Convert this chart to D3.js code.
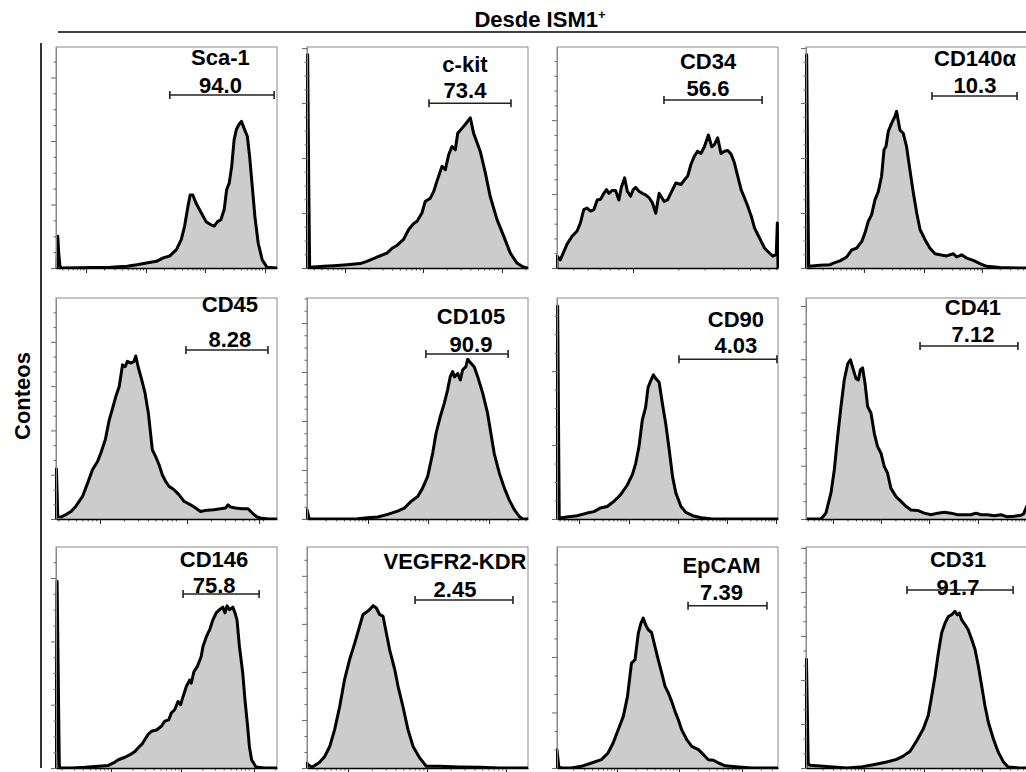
<!DOCTYPE html>
<html>
<head>
<meta charset="utf-8">
<script src="https://cdn.jsdelivr.net/npm/d3@7"></script>
<style>
  body { margin: 0; background: #fff; }
  svg { display: block; }
  text { font-family: "Liberation Sans", Arial, sans-serif; font-weight: bold; fill: #000; }
</style>
</head>
<body>
<svg id="chart"></svg>
<script>
// marker names and gate percentages, row by row
var markers = ["Sca-1", "c-kit", "CD34", "CD140\u03b1", "CD45", "CD105", "CD90", "CD41", "CD146", "VEGFR2-KDR", "EpCAM", "CD31"];
var gatePct = ["94.0", "73.4", "56.6", "10.3", "8.28", "90.9", "4.03", "7.12", "75.8", "2.45", "7.39", "91.7"];
// gate ranges in channel units (0-1000)
var gates = [[515, 987], [552, 923], [484, 928], [570, 955], [588, 959], [538, 910], [552, 995], [516, 959], [575, 919], [489, 932], [593, 950], [457, 937]];

// histograms: [channel, count]
var hSca1 = [[0,0],[5,0],[8,50],[12,25],[18,3],[25,0],[246,1],[321,2.6],[366,5],[410,8],[455,10.5],[485,16],[515,19],[545,29],[567,45],[582,66],[597,97],[607,115],[619,115],[634,102],[657,87],[679,73],[701,68],[716,66],[731,73],[746,76],[761,92],[772,123],[784,134],[795,160],[806,202],[816,218],[828,226],[839,231],[851,220],[866,207],[876,176],[888,129],[900,81],[915,39],[933,13],[955,1],[1000,0]];
var hCkit = [[0,0],[3,388],[8,150],[12,2],[15,1.2],[75,3],[121,4.2],[181,6],[241,8],[271,12],[317,20],[362,27],[385,36],[407,41],[437,52],[460,70],[483,81],[498,85],[520,100],[535,121],[558,127],[573,139],[588,158],[611,185],[626,179],[641,206],[656,221],[671,215],[682,245],[701,254],[716,261],[731,269],[739,273],[754,245],[784,212],[807,173],[829,130],[860,88],[890,58],[920,27],[950,9],[973,3],[995,0],[1000,0]];
var hCD34 = [[0,0],[0,16],[15,11],[45,32],[68,43],[91,50],[106,61],[121,79],[136,81],[152,77],[167,79],[182,92],[197,93],[212,101],[224,106],[235,101],[250,105],[265,105],[280,92],[291,109],[306,122],[318,104],[333,97],[345,106],[356,109],[371,104],[386,101],[401,99],[417,95],[432,88],[447,74],[462,101],[485,90],[500,92],[523,106],[538,115],[561,113],[576,119],[591,124],[606,140],[621,151],[636,158],[651,155],[667,164],[685,180],[700,164],[712,167],[727,176],[742,155],[758,158],[773,159],[788,154],[803,142],[818,124],[833,106],[848,95],[864,83],[879,70],[894,54],[909,45],[924,36],[939,27],[955,22],[977,16],[992,18],[997,61],[1000,0]];
var hCD140a = [[0,0],[3,388],[8,150],[12,5],[15,3],[63,5],[109,6],[124,9],[154,13],[184,20],[207,33],[229,36],[252,48],[267,64],[282,85],[297,97],[312,124],[327,139],[342,167],[353,215],[362,221],[372,248],[388,264],[403,276],[410,285],[425,251],[440,245],[455,221],[470,179],[486,136],[501,100],[516,70],[538,52],[561,36],[584,26],[606,24],[636,22],[667,26],[682,20],[704,24],[727,18],[757,14],[787,8],[817,3],[878,1],[968,0],[1000,0]];
var hCD45 = [[0,0],[2,113],[8,6],[23,4.5],[45,10],[68,17],[90,29],[120,51],[143,81],[165,111],[188,130],[203,149],[223,179],[241,224],[256,250],[271,277],[286,299],[301,348],[313,344],[323,356],[338,352],[353,356],[361,368],[373,341],[388,314],[403,284],[418,239],[436,156],[451,141],[466,123],[481,100],[496,85],[511,74],[534,66],[556,55],[579,40],[609,32],[632,25],[654,17],[684,20],[714,21],[744,23],[767,25],[779,32],[790,27],[812,25],[842,23],[869,23],[887,14],[910,4.5],[932,1.5],[963,0],[1000,0]];
var hCD105 = [[0,0],[0,19],[10,0],[229,0.7],[274,2.7],[320,4],[365,9.5],[410,16],[440,22],[471,36],[501,46],[523,63],[546,87],[569,135],[584,175],[603,209],[621,236],[636,263],[648,290],[659,301],[667,290],[682,297],[694,284],[704,304],[719,311],[727,326],[742,318],[757,310],[772,291],[795,257],[817,216],[832,175],[847,134],[870,94],[893,63],[915,39],[938,19],[961,5],[976,0],[1000,0]];
var hCD90 = [[0,0],[3,288],[10,3],[15,1.3],[45,2.7],[91,4.5],[136,8],[167,10],[197,15],[227,17],[258,24],[288,33],[318,46],[341,60],[356,75],[371,98],[386,134],[401,151],[412,178],[424,187],[436,195],[447,190],[462,185],[477,156],[492,129],[508,93],[523,57],[538,35],[561,17],[583,9],[614,4.5],[652,1.8],[697,0.5],[773,0],[1000,0]];
var hCD41 = [[0,0],[68,0],[90,11],[113,49],[128,92],[143,154],[158,210],[173,261],[189,292],[201,299],[211,285],[226,264],[237,261],[246,280],[256,284],[267,255],[279,211],[294,199],[309,161],[324,136],[339,124],[354,99],[369,86],[384,58],[407,42],[430,33],[452,24],[475,17],[505,16],[535,11],[566,8],[596,11],[626,12.5],[656,11],[686,8],[716,8],[746,8],[769,11],[792,8],[822,8],[852,6],[882,8],[912,4],[942,5],[973,7],[985,10],[993,18],[1000,25]];
var hCD146 = [[0,0],[5,295],[15,3],[20,0],[72,0],[132,1],[192,2.6],[237,4],[260,8],[282,13],[312,17],[335,21],[357,26],[372,32],[390,38],[402,45],[417,53],[432,58],[455,60],[477,66],[492,74],[510,76],[522,87],[537,92],[552,105],[564,100],[575,113],[590,129],[605,139],[612,134],[624,152],[639,160],[657,176],[665,192],[680,207],[695,218],[710,234],[725,245],[740,250],[755,254],[765,245],[774,256],[785,250],[800,254],[810,245],[819,234],[830,192],[845,150],[855,108],[867,66],[875,34],[885,13],[905,1.6],[942,0],[1000,0]];
var hVEGFR2 = [[0,0],[0,10],[5,7],[20,2],[35,5],[57,12],[80,24],[103,45],[125,80],[148,128],[170,184],[193,226],[216,260],[238,295],[253,319],[268,324],[284,330],[299,338],[314,333],[329,319],[344,316],[359,281],[374,246],[397,205],[412,170],[434,128],[457,80],[480,45],[510,21],[540,3.5],[600,3.5],[691,2],[781,1.4],[872,0],[1000,0]];
var hEpCAM = [[0,0],[0,33],[8,2],[20,0],[65,0],[110,3],[156,9],[201,15],[231,27],[254,45],[277,69],[300,93],[319,129],[337,189],[353,195],[368,243],[380,261],[390,270],[401,258],[413,249],[428,244],[443,219],[458,195],[474,171],[489,147],[504,135],[519,120],[534,102],[549,87],[564,69],[587,51],[610,39],[640,33],[663,24],[685,15],[708,14],[731,9],[761,4],[822,2],[882,0],[1000,0]];
var hCD31 = [[0,0],[2,247],[10,10],[18,6],[63,4.5],[124,2],[184,0],[244,2],[305,7.5],[365,13.5],[410,19.5],[440,27],[471,38],[501,62],[531,89],[553,119],[569,164],[584,209],[599,262],[614,307],[629,329],[644,344],[659,348],[674,356],[685,348],[694,352],[704,337],[719,326],[734,314],[750,292],[765,269],[780,231],[795,186],[810,141],[825,104],[848,66],[870,36],[893,14],[915,2],[968,0],[1000,0]];
var histograms = [hSca1, hCkit, hCD34, hCD140a, hCD45, hCD105, hCD90, hCD41, hCD146, hVEGFR2, hEpCAM, hCD31];

// count axis: top of the scale, major step, subdivisions per major
var countMax = [348, 402, 299, 402, 499, 451, 299, 415, 349, 460, 398, 502];
var countMajor = 100;
var countSub = [4, 4, 5, 4, 3, 4, 4, 3, 4, 3, 3, 3];
// decade tick positions (channels) and channels per decade
var decades = [[136, 407, 674, 946], [172, 525, 882], [344], [262, 534, 796], [199, 593, 919], [276, 548, 824], [100, 326, 548, 769, 991], [122, 339, 557, 778], [249, 566, 896], [186, 543, 900], [271, 552, 837], [262, 534, 796]];
var decadeSpan = [270, 355, 680, 267, 360, 274, 222, 218, 320, 357, 283, 267];

// layout
var colX = [56, 307, 557, 806];
var rowY = [47, 298, 547];
var pw = 221, ph = 221;
var nameY = [18, 24.7, 22, 18.7, 14.3, 26.3, 28.7, 17, 19.7, 22.3, 25.7, 19.7];
var valueY = [45.7, 51.3, 49, 45.7, 48.7, 53.7, 55.3, 44.3, 46.3, 49.7, 53, 48];
var gateY = [48, 56.3, 53, 49, 52, 56, 61.3, 48, 47, 53, 58.7, 43];
var labelDx = [-1.5, -5, -5, 0.5, 3, 4, 8, 4, -7, -9, -6, -2];

var width = 1026, height = 772;
var svg = d3.select("#chart").attr("width", width).attr("height", height);

// header
var head = svg.append("text")
	.attr("x", 540).attr("y", 27)
	.attr("text-anchor", "middle")
	.style("font-size", "22px");
head.append("tspan").text("Desde ISM1");
head.append("tspan").text("+").attr("dy", -8).style("font-size", "13px");
svg.append("line")
	.attr("x1", 58).attr("x2", width).attr("y1", 32).attr("y2", 32)
	.attr("stroke", "#000").attr("stroke-width", 1.6);

// left bracket and y title
svg.append("line")
	.attr("x1", 41).attr("x2", 41).attr("y1", 43).attr("y2", 768)
	.attr("stroke", "#000").attr("stroke-width", 1.6);
svg.append("text")
	.attr("transform", "translate(30,396) rotate(-90)")
	.attr("text-anchor", "middle")
	.style("font-size", "22px")
	.text("Conteos");

markers.forEach(function(name, i) {
	var px = colX[i % 4], py = rowY[Math.floor(i / 4)];
	var g = svg.append("g").attr("transform", "translate(" + px + "," + py + ")");

	var x = d3.scaleLinear().domain([0, 1000]).range([0, pw]);
	var y = d3.scaleLinear().domain([0, countMax[i]]).range([ph, 0]);

	var clipId = "clip" + i;
	g.append("clipPath").attr("id", clipId)
		.append("rect").attr("x", -1).attr("y", -1).attr("width", pw + 2).attr("height", ph + 2);

	// frame
	g.append("rect")
		.attr("width", pw).attr("height", ph)
		.attr("fill", "none").attr("stroke", "#8a8a8a").attr("stroke-width", 1);

	// histogram
	var data = histograms[i];
	var area = d3.area()
		.x(function(d) { return x(d[0]); })
		.y0(y(0))
		.y1(function(d) { return y(d[1]); });
	var line = d3.line()
		.x(function(d) { return x(d[0]); })
		.y(function(d) { return y(d[1]); });
	var hg = g.append("g").attr("clip-path", "url(#" + clipId + ")");
	hg.append("path").attr("d", area(data)).attr("fill", "#cccccc");
	hg.append("path").attr("d", line(data))
		.attr("fill", "none").attr("stroke", "#000")
		.attr("stroke-width", 3).attr("stroke-linejoin", "round");

	// y axis ticks
	var yMajor = d3.range(0, countMax[i] + 0.1, countMajor);
	var yMinor = d3.range(0, countMax[i] + 0.1, countMajor / countSub[i]).filter(function(v) {
		return yMajor.indexOf(v) < 0;
	});
	var ya = g.append("g").call(d3.axisLeft(y).tickValues(yMajor).tickSize(5).tickSizeOuter(0).tickFormat(""));
	var yb = g.append("g").call(d3.axisLeft(y).tickValues(yMinor).tickSize(2.5).tickSizeOuter(0).tickFormat(""));
	[ya, yb].forEach(function(a) {
		a.select(".domain").attr("stroke", "#8a8a8a");
		a.selectAll(".tick line").attr("stroke", "#666");
	});

	// x axis ticks (log decades)
	var dec = decades[i], span = decadeSpan[i];
	var minors = [];
	for (var k = -1; k < dec.length; k++) {
		var base = k < 0 ? dec[0] - span : dec[k];
		for (var m = 2; m <= 9; m++) {
			var v = base + Math.log10(m) * span;
			if (v > 2 && v < 998) minors.push(v);
		}
	}
	var xb = g.append("g").attr("transform", "translate(0," + ph + ")")
		.call(d3.axisBottom(x).tickValues(minors).tickSize(2.5).tickSizeOuter(0).tickFormat(""));
	xb.select(".domain").remove();
	xb.selectAll(".tick line").attr("stroke", "#555");
	var xa = g.append("g").attr("transform", "translate(0," + ph + ")")
		.call(d3.axisBottom(x).tickValues(dec).tickSize(5).tickSizeOuter(0).tickFormat(""));
	xa.select(".domain").attr("stroke", "#000").attr("stroke-width", 1.6);
	xa.selectAll(".tick line").attr("stroke", "#222");

	// gate
	var gx0 = x(gates[i][0]), gx1 = x(gates[i][1]), gy = gateY[i];
	var gate = g.append("g").attr("stroke", "#222").attr("stroke-width", 1.6);
	gate.append("line").attr("x1", gx0).attr("x2", gx1).attr("y1", gy).attr("y2", gy);
	gate.append("line").attr("x1", gx0).attr("x2", gx0).attr("y1", gy - 4).attr("y2", gy + 4);
	gate.append("line").attr("x1", gx1).attr("x2", gx1).attr("y1", gy - 4).attr("y2", gy + 4);

	var cx = (gx0 + gx1) / 2 + labelDx[i];
	g.append("text").attr("x", cx).attr("y", nameY[i])
		.attr("text-anchor", "middle").style("font-size", "22px").text(name);
	g.append("text").attr("x", cx).attr("y", valueY[i])
		.attr("text-anchor", "middle").style("font-size", "22px").text(gatePct[i]);
});
</script>
</body>
</html>
